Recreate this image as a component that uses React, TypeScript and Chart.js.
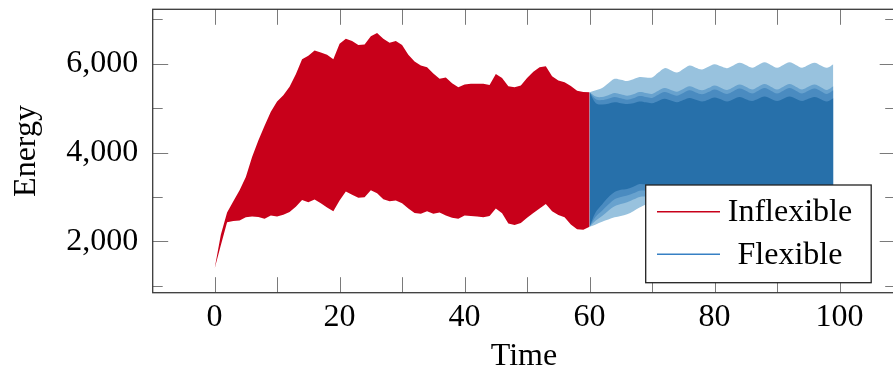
import React, { useEffect, useRef } from 'react';
import { Chart, registerables } from 'chart.js';

Chart.register(...registerables);

// ---------- data ----------
const redTime = [0,1,2,3,4,5,6,7,8,9,10,11,12,13,14,15,16,17,18,19,20,21,22,23,24,25,26,27,28,29,30,31,32,33,34,35,36,37,38,39,40,41,42,43,44,45,46,47,48,49,50,51,52,53,54,55,56,57,58,59,60];
const inflexibleUpper = [1380,2150,2650,2900,3150,3450,3900,4270,4600,4920,5150,5290,5480,5760,6100,6180,6300,6250,6200,6100,6450,6560,6510,6420,6430,6620,6690,6560,6470,6510,6420,6200,6050,5960,5920,5780,5660,5690,5560,5470,5530,5550,5550,5550,5520,5770,5680,5490,5470,5510,5680,5820,5920,5940,5720,5620,5580,5500,5390,5360,5355];
const inflexibleLower = [1380,1910,2430,2460,2470,2540,2560,2550,2510,2580,2560,2600,2660,2780,2930,2880,2940,2860,2760,2680,2920,3120,3050,2980,2990,3150,3080,2950,2900,2920,2860,2740,2640,2620,2680,2620,2650,2580,2530,2510,2580,2570,2560,2540,2570,2740,2630,2400,2370,2410,2530,2640,2740,2840,2680,2590,2540,2380,2270,2260,2330];

const blueTime = [60,61,62,63,64,65,66,67,68,69,70,71,72,73,74,75,76,77,78,79,80,81,82,83,84,85,86,87,88,89,90,91,92,93,94,95,96,97,98,99];
// outer (light) band
const flexUpper4 = [5355,5400,5450,5560,5660,5640,5610,5650,5700,5690,5690,5800,5900,5850,5800,5880,5960,5910,5870,5930,5990,5940,5900,5960,6020,5970,5910,5970,6030,5970,5910,5970,6030,5970,5910,5970,6020,5960,5910,5990];
const flexLower4 = [2330,2380,2440,2490,2540,2570,2610,2680,2760,2830,2850,2830,2800,2780,2760,2790,2820,2790,2760,2790,2820,2790,2760,2790,2820,2790,2760,2790,2820,2790,2760,2790,2820,2790,2760,2790,2820,2790,2760,2790];
// mid band 1
const flexUpper3 = [5355,5260,5250,5290,5340,5310,5280,5310,5360,5340,5320,5390,5450,5410,5370,5430,5490,5440,5400,5450,5510,5460,5410,5470,5530,5480,5420,5480,5540,5480,5420,5480,5540,5480,5420,5480,5530,5470,5410,5490];
const flexLower3 = [2330,2470,2570,2690,2790,2840,2880,2940,3000,3010,2990,2970,2950,2920,2900,2930,2960,2930,2900,2930,2960,2930,2900,2930,2960,2930,2900,2930,2960,2930,2900,2930,2960,2930,2900,2930,2960,2930,2900,2930];
// mid band 2
const flexUpper2 = [5355,5200,5180,5210,5250,5220,5190,5220,5270,5250,5230,5300,5360,5320,5280,5340,5400,5350,5310,5360,5420,5370,5320,5380,5440,5390,5330,5390,5450,5390,5330,5390,5450,5390,5330,5390,5440,5380,5320,5400];
const flexLower2 = [2330,2560,2690,2830,2950,3000,3030,3080,3140,3140,3110,3090,3070,3040,3020,3050,3080,3050,3020,3050,3080,3050,3020,3050,3080,3050,3020,3050,3080,3050,3020,3050,3080,3050,3020,3050,3080,3050,3020,3050];
// inner (dark) band
const flexUpper1 = [5355,5110,5080,5100,5130,5110,5090,5110,5150,5130,5110,5160,5210,5170,5130,5180,5230,5190,5150,5190,5240,5200,5150,5200,5250,5200,5160,5210,5260,5210,5160,5210,5260,5210,5160,5210,5250,5200,5150,5220];
const flexLower1 = [2330,2660,2830,2990,3110,3160,3180,3230,3290,3280,3250,3220,3200,3170,3150,3180,3210,3180,3150,3180,3210,3180,3150,3180,3210,3180,3150,3180,3210,3180,3150,3180,3210,3180,3150,3180,3210,3180,3150,3180];

const xTickLabels = [0, 20, 40, 60, 80, 100];
const xTickMarks = [0, 10, 20, 30, 40, 50, 60, 70, 80, 90, 100];
const yTickLabels = [2000, 4000, 6000];
const yMinorTicks = [1000, 3000, 5000, 7000];
const seriesNames = ['Inflexible', 'Flexible'];
const xTitle = 'Time';
const yTitle = 'Energy';

// ---------- styles ----------
const RED = 'rgb(200,0,26)';
const BLUE_DARK = 'rgb(39,112,170)';
const BLUE_MID2 = 'rgb(74,139,192)';
const BLUE_MID1 = 'rgb(104,162,206)';
const BLUE_LIGHT = 'rgb(152,194,222)';
const LEGEND_BLUE = 'rgb(55,128,196)';
const FONT = "'Liberation Serif', 'Times New Roman', serif";
const FS = 32;

const pts = (xs: number[], ys: number[]) => xs.map((x, i) => ({ x, y: ys[i] }));

const bandSet = (data: { x: number; y: number }[], fill: any, color: string, tension: number) => ({
  data,
  fill,
  backgroundColor: color,
  borderColor: 'transparent',
  borderWidth: 0,
  pointRadius: 0,
  tension,
});

const framePlugin = {
  id: 'frame',
  afterDatasetsDraw(chart: any) {
    const { ctx, chartArea, scales } = chart;
    const { left, top, right, bottom } = chartArea;
    const x = scales.x;
    const y = scales.y;
    ctx.save();
    ctx.strokeStyle = '#7a7a7a';
    ctx.lineWidth = 1;
    const major = 15.5;
    const minor = 10;
    ctx.beginPath();
    for (const v of xTickMarks) {
      const px = Math.round(x.getPixelForValue(v)) + 0.5;
      ctx.moveTo(px, bottom);
      ctx.lineTo(px, bottom - major);
      ctx.moveTo(px, top);
      ctx.lineTo(px, top + major);
    }
    for (const v of yTickLabels) {
      const py = Math.round(y.getPixelForValue(v)) + 0.5;
      ctx.moveTo(left, py);
      ctx.lineTo(left + major, py);
      ctx.moveTo(right, py);
      ctx.lineTo(right - major, py);
    }
    for (const v of yMinorTicks) {
      const py = Math.round(y.getPixelForValue(v)) + 0.5;
      ctx.moveTo(left, py);
      ctx.lineTo(left + minor, py);
      ctx.moveTo(right, py);
      ctx.lineTo(right - minor, py);
    }
    ctx.stroke();
    ctx.strokeStyle = '#3a3a3a';
    ctx.lineWidth = 1.3;
    ctx.strokeRect(left, top, right - left, bottom - top);
    ctx.restore();
  },
  afterDraw(chart: any) {
    const { ctx } = chart;
    ctx.save();
    const bx = 645.7, by = 185, bw = 225.5, bh = 97.7;
    ctx.fillStyle = '#ffffff';
    ctx.fillRect(bx, by, bw, bh);
    ctx.strokeStyle = '#222';
    ctx.lineWidth = 1.3;
    ctx.strokeRect(bx, by, bw, bh);
    const rows = [
      { name: seriesNames[0], color: RED, y: 211.7 },
      { name: seriesNames[1], color: LEGEND_BLUE, y: 254.3 },
    ];
    ctx.font = `${FS}px ${FONT}`;
    ctx.textAlign = 'center';
    ctx.textBaseline = 'middle';
    for (const r of rows) {
      ctx.strokeStyle = r.color;
      ctx.lineWidth = 1.5;
      ctx.beginPath();
      ctx.moveTo(657, r.y);
      ctx.lineTo(720, r.y);
      ctx.stroke();
      ctx.fillStyle = '#000';
      ctx.fillText(r.name, 790, r.y + 1);
    }
    ctx.restore();
  },
};

export default function App() {
  const ref = useRef<HTMLCanvasElement>(null);
  useEffect(() => {
    if (!ref.current) return;
    const chart = new Chart(ref.current, {
      type: 'line',
      data: {
        datasets: [
          bandSet(pts(redTime, inflexibleUpper), '+1', RED, 0),
          bandSet(pts(redTime, inflexibleLower), false, RED, 0),
          bandSet(pts(blueTime, flexUpper1), '+1', BLUE_DARK, 0.35),
          bandSet(pts(blueTime, flexLower1), false, BLUE_DARK, 0.35),
          bandSet(pts(blueTime, flexUpper2), '+1', BLUE_MID2, 0.35),
          bandSet(pts(blueTime, flexLower2), false, BLUE_MID2, 0.35),
          bandSet(pts(blueTime, flexUpper3), '+1', BLUE_MID1, 0.35),
          bandSet(pts(blueTime, flexLower3), false, BLUE_MID1, 0.35),
          bandSet(pts(blueTime, flexUpper4), '+1', BLUE_LIGHT, 0.35),
          bandSet(pts(blueTime, flexLower4), false, BLUE_LIGHT, 0.35),
        ] as any,
      },
      options: {
        responsive: false,
        animation: false,
        devicePixelRatio: 1,
        layout: { padding: { top: 9.3, right: 4.8, bottom: 0, left: 0 } },
        plugins: { legend: { display: false }, tooltip: { enabled: false } },
        scales: {
          x: {
            type: 'linear',
            min: -9.9,
            max: 108.9,
            grid: { display: false, drawTicks: false },
            border: { display: false },
            afterBuildTicks: (s: any) => {
              s.ticks = xTickLabels.map((v) => ({ value: v }));
            },
            afterFit: (s: any) => {
              s.height = 79.3;
              s.paddingLeft = 0;
              s.paddingRight = 0;
            },
            ticks: {
              padding: 6,
              maxRotation: 0,
              color: '#000',
              font: { family: FONT, size: FS },
            },
            title: {
              display: true,
              text: xTitle,
              color: '#000',
              font: { family: FONT, size: FS, lineHeight: 1 },
              padding: { top: 0, bottom: -0.5 },
            },
          },
          y: {
            type: 'linear',
            min: 843,
            max: 7225,
            grid: { display: false, drawTicks: false },
            border: { display: false },
            afterBuildTicks: (s: any) => {
              s.ticks = yTickLabels.map((v) => ({ value: v }));
            },
            afterFit: (s: any) => {
              s.width = 152.7;
              s.paddingTop = 0;
              s.paddingBottom = 0;
            },
            ticks: {
              padding: 14.4,
              color: '#000',
              font: { family: FONT, size: FS },
              callback: (v: any) => Number(v).toLocaleString('en-US'),
            },
            title: {
              display: true,
              text: yTitle,
              color: '#000',
              font: { family: FONT, size: FS, lineHeight: 1 },
              padding: { top: 10.5, bottom: 0 },
            },
          },
        },
      },
      plugins: [framePlugin],
    } as any);
    return () => chart.destroy();
  }, []);

  return (
    <div style={{ position: 'fixed', left: 0, top: 0, width: 893, height: 372, overflow: 'hidden', background: '#fff' }}>
      <canvas ref={ref} width={900} height={372} style={{ display: 'block', width: 900, height: 372 }} />
    </div>
  );
}
